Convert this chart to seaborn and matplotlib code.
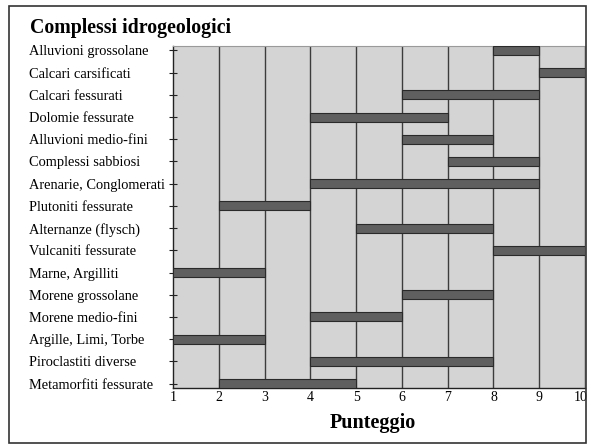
import matplotlib
matplotlib.use('Agg')
import matplotlib.pyplot as plt
from matplotlib.patches import Rectangle
from matplotlib.transforms import ScaledTranslation
import seaborn as sns

# ============================================================
# Data
# ============================================================
complessi = [
    'Alluvioni grossolane', 'Calcari carsificati', 'Calcari fessurati',
    'Dolomie fessurate', 'Alluvioni medio-fini', 'Complessi sabbiosi',
    'Arenarie, Conglomerati', 'Plutoniti fessurate', 'Alternanze (flysch)',
    'Vulcaniti fessurate', 'Marne, Argilliti', 'Morene grossolane',
    'Morene medio-fini', 'Argille, Limi, Torbe', 'Piroclastiti diverse',
    'Metamorfiti fessurate',
]
punteggio_min = [8, 9, 6, 4, 6, 7, 4, 2, 5, 8, 1, 6, 4, 1, 4, 2]
punteggio_max = [9, 10, 9, 7, 8, 9, 9, 4, 8, 10, 3, 8, 6, 3, 8, 5]
x_ticks = list(range(1, 11))

sns.set_style('white', {'text.color': 'black', 'xtick.color': 'black',
                        'ytick.color': 'black'})
plt.rcParams['font.family'] = ['Liberation Serif', 'DejaVu Serif']

fig = plt.figure(figsize=(5.89, 4.45), dpi=100)
ax = fig.add_axes([173 / 589, 1 - 388 / 445, (585 - 173) / 589, (388 - 46) / 445])
ax.set_facecolor('#d4d4d4')

# vertical grid lines at each score
for v in x_ticks[1:]:
    ax.axvline(v, color='#3c3c3c', lw=1.0, zorder=1)

rows = list(range(len(complessi)))
widths = [b - a for a, b in zip(punteggio_min, punteggio_max)]
ax.barh(rows, widths, left=punteggio_min, height=0.4,
        color='#5f5f5f', edgecolor='#2a2a2a', linewidth=0.8, zorder=3)

ax.set_xlim(1, 10)
ax.set_ylim(len(complessi) - 1 + 0.2, -0.2)
ax.set_xticks(x_ticks)
ax.set_xticklabels([str(t) for t in x_ticks], fontsize=10, color='black')
ax.set_yticks(rows)
ax.set_yticklabels(complessi, fontsize=10.4, ha='left', color='black')
ax.tick_params(axis='y', direction='inout', length=6, width=0.8,
               color='#222222', pad=101, left=True)
ax.tick_params(axis='x', direction='inout', length=0, pad=2)

# keep the last tick label inside the figure
last = ax.get_xticklabels()[-1]
last.set_transform(last.get_transform() + ScaledTranslation(-3 / 72, 0, fig.dpi_scale_trans))

for side in ['top', 'right']:
    ax.spines[side].set_color('#9a9a9a')
    ax.spines[side].set_linewidth(0.8)
for side in ['left', 'bottom']:
    ax.spines[side].set_color('#222222')
    ax.spines[side].set_linewidth(1.0)

fig.text(30 / 589, 1 - 28 / 445, 'Complessi idrogeologici', fontsize=14.3,
         fontweight='bold', va='center', ha='left', color='black')
fig.text(373 / 589, 1 - 423 / 445, 'Punteggio', fontsize=14.5,
         fontweight='bold', va='center', ha='center', color='black')

# outer frame
fig.patches.append(Rectangle((9 / 589, 2 / 445), (586 - 9) / 589, (439 - 2) / 445,
                             transform=fig.transFigure, fill=False,
                             edgecolor='#333333', linewidth=1.2))

fig.savefig('out.png', dpi=100)
